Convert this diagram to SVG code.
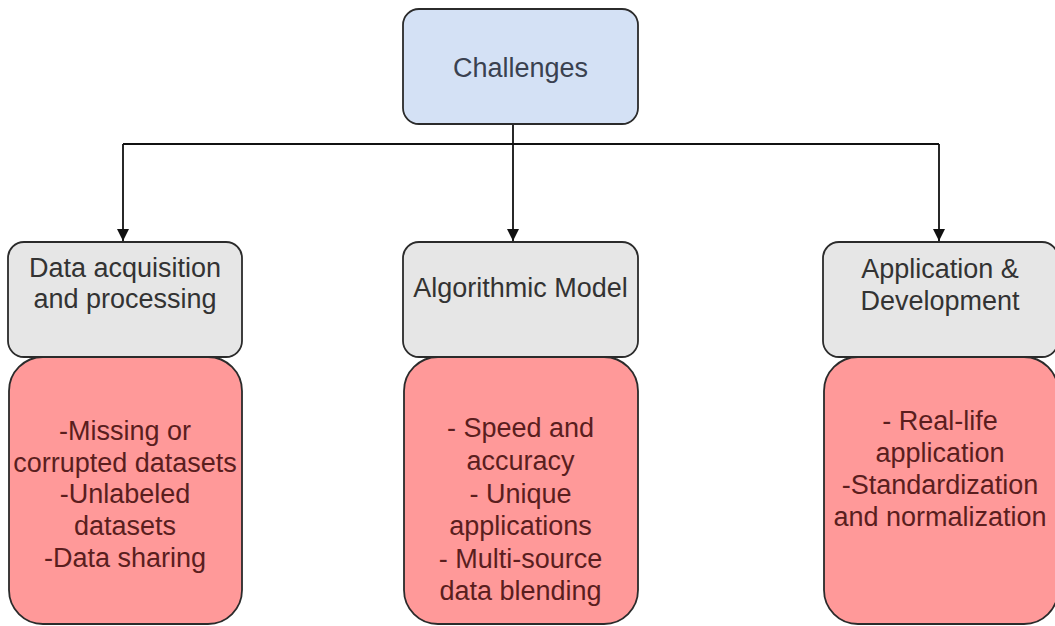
<svg xmlns="http://www.w3.org/2000/svg" width="1055" height="626" viewBox="0 0 1055 626">
  <defs>
    <marker id="arrow" viewBox="0 0 12 12" refX="12" refY="6" markerWidth="12" markerHeight="12" markerUnits="userSpaceOnUse" orient="auto">
      <path d="M0,0 L12,6 L0,12 Z" fill="#111"/>
    </marker>
    <style>
      .lbl { font-family: "Liberation Sans", Arial, sans-serif; font-size: 27px; text-anchor: middle; }
      .root rect { fill: #d4e1f5; stroke: #2b2b2b; stroke-width: 1.8; }
      .root text { fill: #3a4150; }
      .head rect { fill: #e6e6e6; stroke: #2b2b2b; stroke-width: 1.8; }
      .head text { fill: #333333; }
      .body rect { fill: #ff9999; stroke: #2b2b2b; stroke-width: 1.8; }
      .body text { fill: #5a1e1e; }
      .edge { fill: none; stroke: #111; stroke-width: 1.8; }
    </style>
  </defs>
  <rect width="1055" height="626" fill="#ffffff"/>

  <!-- connectors -->
  <g id="connectors">
    <path class="edge" d="M123,144 H939"/>
    <path class="edge" d="M513,125 V241" marker-end="url(#arrow)"/>
    <path class="edge" d="M123,144 V241" marker-end="url(#arrow)"/>
    <path class="edge" d="M939,144 V241" marker-end="url(#arrow)"/>
  </g>

  <!-- root -->
  <g id="challenges" class="root">
    <rect x="403" y="9" width="235" height="115" rx="16"/>
    <text class="lbl" x="520.5" y="77">Challenges</text>
  </g>

  <!-- category headers -->
  <g id="data-acquisition" class="head">
    <rect x="8" y="242" width="234" height="115" rx="16"/>
    <text class="lbl" x="125" y="277">Data acquisition</text>
    <text class="lbl" x="125" y="308">and processing</text>
  </g>
  <g id="algorithmic-model" class="head">
    <rect x="403" y="242" width="235" height="115" rx="16"/>
    <text class="lbl" x="520.5" y="297">Algorithmic Model</text>
  </g>
  <g id="application-development" class="head">
    <rect x="823" y="242" width="235" height="115" rx="16"/>
    <text class="lbl" x="940" y="278">Application &amp;</text>
    <text class="lbl" x="940" y="310">Development</text>
  </g>

  <!-- category details -->
  <g id="data-acquisition-issues" class="body">
    <rect x="9" y="357" width="233" height="267" rx="34"/>
    <text class="lbl" x="125" y="440">-Missing or</text>
    <text class="lbl" x="125" y="472">corrupted datasets</text>
    <text class="lbl" x="125" y="503">-Unlabeled</text>
    <text class="lbl" x="125" y="535">datasets</text>
    <text class="lbl" x="125" y="567">-Data sharing</text>
  </g>
  <g id="algorithmic-model-issues" class="body">
    <rect x="404" y="357" width="234" height="267" rx="34"/>
    <text class="lbl" x="520.5" y="437">- Speed and</text>
    <text class="lbl" x="520.5" y="470">accuracy</text>
    <text class="lbl" x="520.5" y="503">- Unique</text>
    <text class="lbl" x="520.5" y="535">applications</text>
    <text class="lbl" x="520.5" y="568">- Multi-source</text>
    <text class="lbl" x="520.5" y="600">data blending</text>
  </g>
  <g id="application-development-issues" class="body">
    <rect x="824" y="357" width="234" height="267" rx="34"/>
    <text class="lbl" x="940" y="430">- Real-life</text>
    <text class="lbl" x="940" y="462">application</text>
    <text class="lbl" x="940" y="494">-Standardization</text>
    <text class="lbl" x="940" y="526">and normalization</text>
  </g>
</svg>
